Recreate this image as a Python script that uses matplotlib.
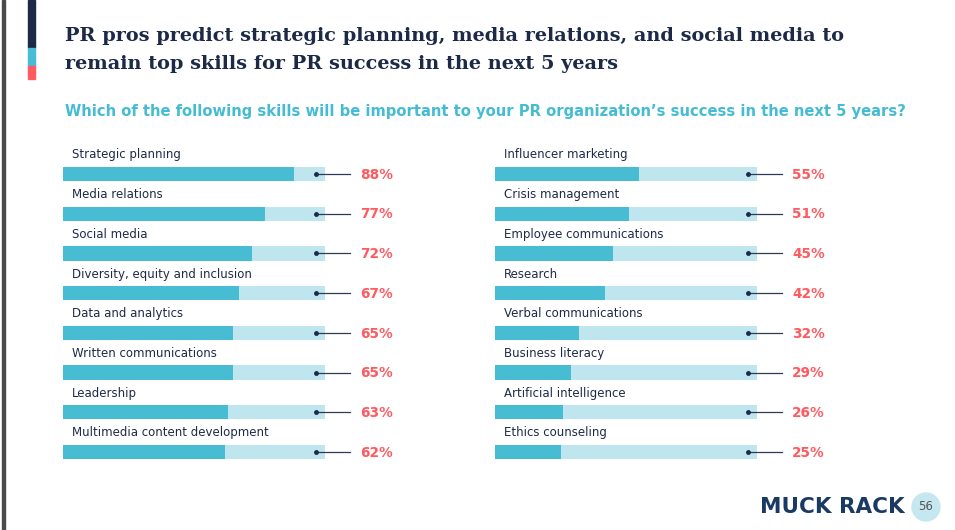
import matplotlib.pyplot as plt
from matplotlib.patches import Rectangle, Ellipse

left_skills = ['Strategic planning', 'Media relations', 'Social media',
               'Diversity, equity and inclusion', 'Data and analytics',
               'Written communications', 'Leadership',
               'Multimedia content development']
left_values = [88, 77, 72, 67, 65, 65, 63, 62]
right_skills = ['Influencer marketing', 'Crisis management',
                'Employee communications', 'Research',
                'Verbal communications', 'Business literacy',
                'Artificial intelligence', 'Ethics counseling']
right_values = [55, 51, 45, 42, 32, 29, 26, 25]

W, H = 955, 530
DARK = '#48bcd3'
LIGHT = '#bfe6ef'
RED = '#ff5a5f'
NAVY = '#1d2b48'
plt.rcParams['font.family'] = ['DejaVu Sans']

fig = plt.figure(figsize=(W / 100, H / 100), dpi=100)
fig.patch.set_facecolor('white')


def px(x, y):
    return x / W, 1 - y / H


# left frame line and title accent
fig.add_artist(Rectangle(px(2, 530), 2.5 / W, 1, color='#4a4a4a', transform=fig.transFigure))
fig.add_artist(Rectangle(px(28, 48), 7 / W, 48 / H, color='#1c2a47', transform=fig.transFigure))
fig.add_artist(Rectangle(px(28, 66), 7 / W, 18 / H, color='#48bcd3', transform=fig.transFigure))
fig.add_artist(Rectangle(px(28, 79), 7 / W, 13 / H, color='#ff5a5f', transform=fig.transFigure))

fig.text(*px(65, 36), 'PR pros predict strategic planning, media relations, and social media to',
         family='DejaVu Serif', weight='bold', fontsize=13.9, color='#1c2a47', va='center')
fig.text(*px(65, 64), 'remain top skills for PR success in the next 5 years',
         family='DejaVu Serif', weight='bold', fontsize=13.9, color='#1c2a47', va='center')
fig.text(*px(65, 111), 'Which of the following skills will be important to your PR organization\u2019s success in the next 5 years?',
         weight='bold', fontsize=10.6, color='#45bcd4', va='center')


def column(x0, skills, values):
    top = 174 - 0.5 * 39.7
    bottom = 174 + 7.5 * 39.7
    l, b = px(x0, bottom)
    ax = fig.add_axes([l, b, 262 / W, (bottom - top) / H])
    ax.set_xlim(0, 100)
    ax.set_ylim(7.5, -0.5)
    ax.axis('off')
    ys = range(len(values))
    ax.barh(ys, [100] * len(values), height=0.36, color=LIGHT)
    ax.barh(ys, values, height=0.36, color=DARK)
    for i, (s, v) in enumerate(zip(skills, values)):
        ax.text(3.4, i - 0.48, s, fontsize=8.5, color=NAVY, va='center')
        ax.plot([96.5, 109.5], [i, i], color='#2b3a55', lw=0.9, clip_on=False)
        ax.plot([96.5], [i], 'o', color='#1d2b48', ms=2.5, clip_on=False)
        ax.text(113.4, i + 0.02, f'{v}%', fontsize=9.8, weight='bold', color=RED,
                va='center', clip_on=False)


column(63, left_skills, left_values)
column(495, right_skills, right_values)

fig.text(*px(760, 507), 'MUCK RACK', weight='heavy', fontsize=15.5, color='#1b3a63', va='center')
fig.add_artist(Ellipse(px(926, 507), 28 / W, 28 / H, color='#c5e8f0', transform=fig.transFigure))
fig.text(*px(926, 507), '56', fontsize=8.5, color='#555', ha='center', va='center')

fig.savefig('out.png', dpi=100)
